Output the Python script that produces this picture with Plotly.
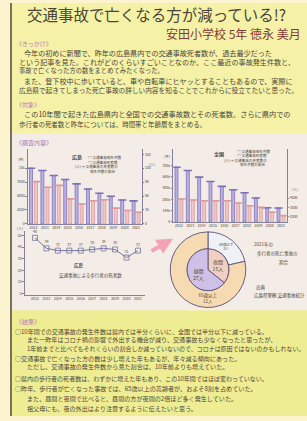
import plotly.graph_objects as go

W, H = 307, 421
def px(x): return x / W
def py(y): return 1 - y / H

FONT = "Noto Sans CJK JP"

# ---------------- data ----------------
years = ["2012", "2013", "2014", "2015", "2016", "2017", "2018", "2019", "2020", "2021"]
idx = list(range(len(years)))

hiro_accidents = [10000, 9580, 8680, 7980, 7180, 6280, 5500, 4980, 4300, 4130]   # 件
hiro_deaths = [91, 79, 83, 54, 43, 50, 52, 34, 29, 25]                            # 人

nat_accidents = [679000, 638000, 556000, 503000, 441000, 399000, 363000, 297000, 176000, 174000]
nat_deaths = [3900, 3790, 3720, 3720, 3720, 3470, 3190, 3020, 2500, 2140]

ped_deaths = [48, 39, 37, 37, 37, 38, 39, 38, 31, 37]

inner_labels = ["夜間", "昼間"]
inner_vals = [15, 27]
outer_labels = ["64歳以下", "65歳以上", "64歳以下", "65歳以上"]
outer_vals = [3, 12, 6, 21]

PURPLE = "#b9b1e2"; PURPLE_L = "#7b72b8"
PINK = "#f3c6c6"; PINK_L = "#d89a9a"
AX = "#85809c"
TXT = "#4a4638"

fig = go.Figure()

# ---- chart 1 : Hiroshima ----
fig.add_bar(x=idx, y=hiro_accidents, width=0.26, offset=-0.35,
            marker=dict(color=PURPLE, line=dict(color=PURPLE_L, width=0.8)),
            xaxis="x", yaxis="y")
fig.add_bar(x=idx, y=hiro_deaths, width=0.26, offset=0.09,
            marker=dict(color=PINK, line=dict(color=PINK_L, width=0.8)),
            xaxis="x", yaxis="y2")
fig.add_scatter(x=[i - 0.22 for i in idx], y=hiro_accidents, mode="markers",
                marker=dict(symbol="line-ew", size=6, line=dict(width=1.6, color=PURPLE_L)),
                xaxis="x", yaxis="y")
fig.add_scatter(x=[i + 0.22 for i in idx], y=hiro_deaths, mode="markers",
                marker=dict(symbol="line-ew", size=6, line=dict(width=1.6, color=PINK_L)),
                xaxis="x", yaxis="y2")

# ---- chart 2 : national ----
fig.add_bar(x=idx, y=nat_accidents, width=0.26, offset=-0.35,
            marker=dict(color=PURPLE, line=dict(color=PURPLE_L, width=0.8)),
            xaxis="x2", yaxis="y3")
fig.add_bar(x=idx, y=nat_deaths, width=0.26, offset=0.09,
            marker=dict(color=PINK, line=dict(color=PINK_L, width=0.8)),
            xaxis="x2", yaxis="y4")
fig.add_scatter(x=[i - 0.22 for i in idx], y=nat_accidents, mode="markers",
                marker=dict(symbol="line-ew", size=6, line=dict(width=1.6, color=PURPLE_L)),
                xaxis="x2", yaxis="y3")
fig.add_scatter(x=[i + 0.22 for i in idx], y=nat_deaths, mode="markers",
                marker=dict(symbol="line-ew", size=6, line=dict(width=1.6, color=PINK_L)),
                xaxis="x2", yaxis="y4")

# ---- line chart : pedestrian deaths ----
fig.add_scatter(x=idx, y=ped_deaths, mode="lines+markers+text",
                text=[str(v) for v in ped_deaths], textposition="top center",
                textfont=dict(size=3.5, color=TXT, family=FONT),
                line=dict(color="#75739a", width=1),
                marker=dict(symbol="square-open", size=5, color="#75739a", line=dict(width=0.8)),
                xaxis="x3", yaxis="y5", cliponaxis=False)

# ---- donut ----
fig.add_pie(values=outer_vals, labels=outer_labels,
            text=[f"{l}<br>{v}人" for l, v in zip(outer_labels, outer_vals)],
            textinfo="text", hole=21 / 38, sort=False, direction="clockwise",
            domain=dict(x=[px(170), px(246)], y=[py(309), py(233)]),
            marker=dict(colors=["#eef1f5", "#f6dab2", "#dce5f2", "#f7e3bb"],
                        line=dict(color="#5a5278", width=0.9)),
            textfont=dict(size=4.5, color=TXT, family=FONT),
            textposition="inside", insidetextorientation="horizontal",
            hoverinfo="skip", showlegend=False)
fig.add_pie(values=inner_vals, labels=inner_labels,
            text=[f"{l}<br>{v}人" for l, v in zip(inner_labels, inner_vals)],
            textinfo="text", sort=False, direction="clockwise",
            domain=dict(x=[px(187), px(229)], y=[py(292), py(250)]),
            marker=dict(colors=["#f2cfc0", "#cec0e6"], line=dict(color="#5a5278", width=0.9)),
            textfont=dict(size=5, color=TXT, family=FONT),
            textposition="inside", insidetextorientation="horizontal",
            hoverinfo="skip", showlegend=False)

tickf = dict(size=3.5, color=TXT, family=FONT)
def xax(d, anchor, rng):
    return dict(domain=[px(d[0]), px(d[1])], anchor=anchor, range=rng,
                tickvals=idx, ticktext=years, tickfont=tickf, showline=True,
                linecolor=AX, linewidth=0.8, showgrid=False, zeroline=False,
                ticks="", fixedrange=True)
def yax(d, anchor, rng, tv, side="left", overlay=None):
    a = dict(range=rng, anchor=anchor, tickvals=tv, tickfont=tickf, showline=True,
             linecolor=AX, linewidth=0.8, showgrid=False, zeroline=False,
             ticks="outside", ticklen=1.5, tickcolor=AX, side=side)
    if overlay:
        a["overlaying"] = overlay
    else:
        a["domain"] = [py(d[1]), py(d[0])]
    return a

u1 = 2500; r1 = (225 - 150) / 14
u2 = 140000; r2 = (223 - 150) / 11.33
fig.update_layout(
    xaxis=xax((27.8, 141.8), "y", [-0.5, 9.5]),
    yaxis=yax((150, 225), "x", [0, r1 * u1], [0, 2500, 5000, 7500, 10000]),
    yaxis2=yax(None, "x", [0, r1 * 30], [0, 30, 60, 90, 120, 150], side="right", overlay="y"),
    xaxis2=xax((173.3, 286.7), "y3", [-0.5, 9.5]),
    yaxis3=yax((150, 223), "x2", [0, r2 * u2], [i * u2 for i in range(6)]),
    yaxis4=yax(None, "x2", [1474, 9158], [2000, 3000, 4000], side="right", overlay="y3"),
    xaxis3=xax((24.7, 144.8), "y5", [-0.9, 9.6]),
    yaxis5=yax((232, 296), "x3", [-0.86, 54], [0, 10, 20, 30, 40, 50]),
    barmode="overlay",
)

# ---------------- background shapes ----------------
shapes = [
    dict(type="rect", x0=px(11), x1=px(312), y0=py(418), y1=py(3), fillcolor="#f5f1a7", line=dict(width=0)),
    dict(type="rect", x0=px(12), x1=px(312), y0=py(312), y1=py(134), fillcolor="#f3ece7", line=dict(width=0)),
    dict(type="rect", x0=px(12), x1=px(312), y0=py(418), y1=py(312), fillcolor="#efed93", line=dict(width=0)),
    dict(type="line", x0=px(11), x1=px(11), y0=py(418), y1=py(3), line=dict(color="#4e4636", width=1.5)),
]
for s in shapes:
    s.update(xref="paper", yref="paper", layer="below")
fig.update_layout(shapes=shapes)

ann = []
def T(x, y, t, size, color=TXT, anchor="left"):
    ann.append(dict(x=px(x), y=py(y), xref="paper", yref="paper", text=t, showarrow=False,
                    xanchor=anchor, yanchor="middle",
                    font=dict(size=size, color=color, family=FONT)))

def em(s):
    return sum(0.56 if ord(c) < 128 else 1.0 for c in s)

def FIT(x0, x1, y, t, maxsize=8.0):
    T(x0, y, t, min(maxsize, (x1 - x0) / em(t)))

FIT(25, 290, 14, "交通事故で亡くなる方が減っている!?", 17)
T(303, 34, "安田小学校 5年 徳永 美月", 12, "#7d3a36", anchor="right")

HEAD = "#b77fba"
T(14, 43.5, "《きっかけ》", 6, HEAD)
kikkake = [
    (22, 303, 52.8, "今年の初めに新聞で、昨年の広島県内での交通事故死者数が、過去最少だった"),
    (17, 303, 61.9, "という記事を見た。これがどのくらいすごいことなのか、ここ最近の事故発生件数と、"),
    (17, 162, 70.7, "事故で亡くなった方の数をまとめてみたくなった。"),
    (22, 302, 81.7, "また、登下校中に歩いていると、車や自転車にヒヤッとすることもあるので、実際に"),
    (17, 297, 90.5, "広島県で起きてしまった死亡事故の詳しい内容を知ることでこれからに役立てたいと思った。"),
]
for x0, x1, y, t in kikkake:
    FIT(x0, x1, y, t, 7.1)

T(14, 105, "《対象》", 6, HEAD)
taisho = [
    (22, 303, 115, "この10年間で起きた広島県内と全国での交通事故数とその死者数。さらに県内での"),
    (17, 205, 124.5, "歩行者の死者数と昨年については、時間帯と年齢層をまとめる。"),
]
for x0, x1, y, t in taisho:
    FIT(x0, x1, y, t, 7.2)

T(14, 143, "《調査内容》", 6, "#a27cc4")

# chart 1 labels
T(16, 160, "(件)", 3.5)
T(70, 158, "<b>広島</b>", 5)
for y, t, x in [(158, "□ 交通事故発生件数", 86), (163, "□ 交通事故死者数", 86),
                (167.5, "(人)→ 交通事故の死者数の", 73), (172, "発生件数の割合", 88)]:
    T(x, y, t, 3.6)
T(147, 165, "(人)", 3.5)

# chart 2 labels
T(162, 157, "(件)", 3.5)
T(212, 155, "<b>全国</b>", 5)
for y, t, x in [(152, "□ 交通事故発生件数", 235), (156.5, "□ 交通事故死者数", 235),
                (161, "(人)→ 交通事故の死者数の", 222), (165.5, "発生件数の割合", 238)]:
    T(x, y, t, 3.6)
T(290, 190, "(人)", 3.5)

# line chart labels
T(15, 230, "(人)", 3.5)
T(72, 267, "<b>広島</b>", 4.5)
T(57, 277, "交通事故による歩行者の死者数", 4.5)

# donut side text
T(252, 246, "2021年の", 4.5)
T(255, 255, "歩行者の死亡事故の", 4.5)
T(277, 264, "割合", 4.5)
T(254, 289, "出典", 4.5)
T(252, 297, "広島県警察 交通事故統計", 4.5)

# results
T(14, 323, "《結果》", 6, HEAD)
kekka = [
    (13, 267, 333, "○10年間での交通事故の発生件数は県内では半分くらいに、全国では半分以下に減っている。"),
    (25, 287, 341, "また一昨年はコロナ禍の影響で外出する機会が減り、交通事故も少なくなったと思ったが、"),
    (25, 304, 350, "1年前までと比べてもそれくらいの割合しか減っていないので、コロナは原因ではないのかもしれない。"),
    (13, 250, 360, "○交通事故で亡くなった方の数は少し増えた年もあるが、年々減る傾向にあった。"),
    (25, 240, 368.5, "ただし、交通事故の発生件数から見た割合は、10年前よりも増えていた。"),
    (13, 267, 380, "○県内の歩行者の死者数は、わずかに増えた年もあり、この10年間ではほぼ変わっていない。"),
    (13, 263, 390, "○昨年、歩行者が亡くなった事故では、65歳以上の高齢者が、およそ8割を占めていた。"),
    (25, 243, 400, "また、昼間と夜間で比べると、昼間の方が夜間の2倍ほど多く発生していた。"),
    (25, 207, 410, "祖父母にも、夜の外出はより注意するように伝えたいと思う。"),
]
for x0, x1, y, t in kekka:
    FIT(x0, x1, y, t, 6.1)

# pink arrow
ann.append(dict(x=px(173), y=py(240), ax=-23, ay=13, xref="paper", yref="paper",
                axref="pixel", ayref="pixel", showarrow=True, arrowhead=2, arrowsize=0.8,
                arrowwidth=4, arrowcolor="#f2a4b6", text=""))

fig.update_layout(annotations=ann, width=W, height=H,
                  margin=dict(l=0, r=0, t=0, b=0),
                  paper_bgcolor="#fcf3cf", plot_bgcolor="rgba(0,0,0,0)",
                  showlegend=False, font=dict(family=FONT))

fig.write_html("out.html", config={"displayModeBar": False},
               post_script="document.body.style.margin='0';document.body.style.overflow='hidden';")
